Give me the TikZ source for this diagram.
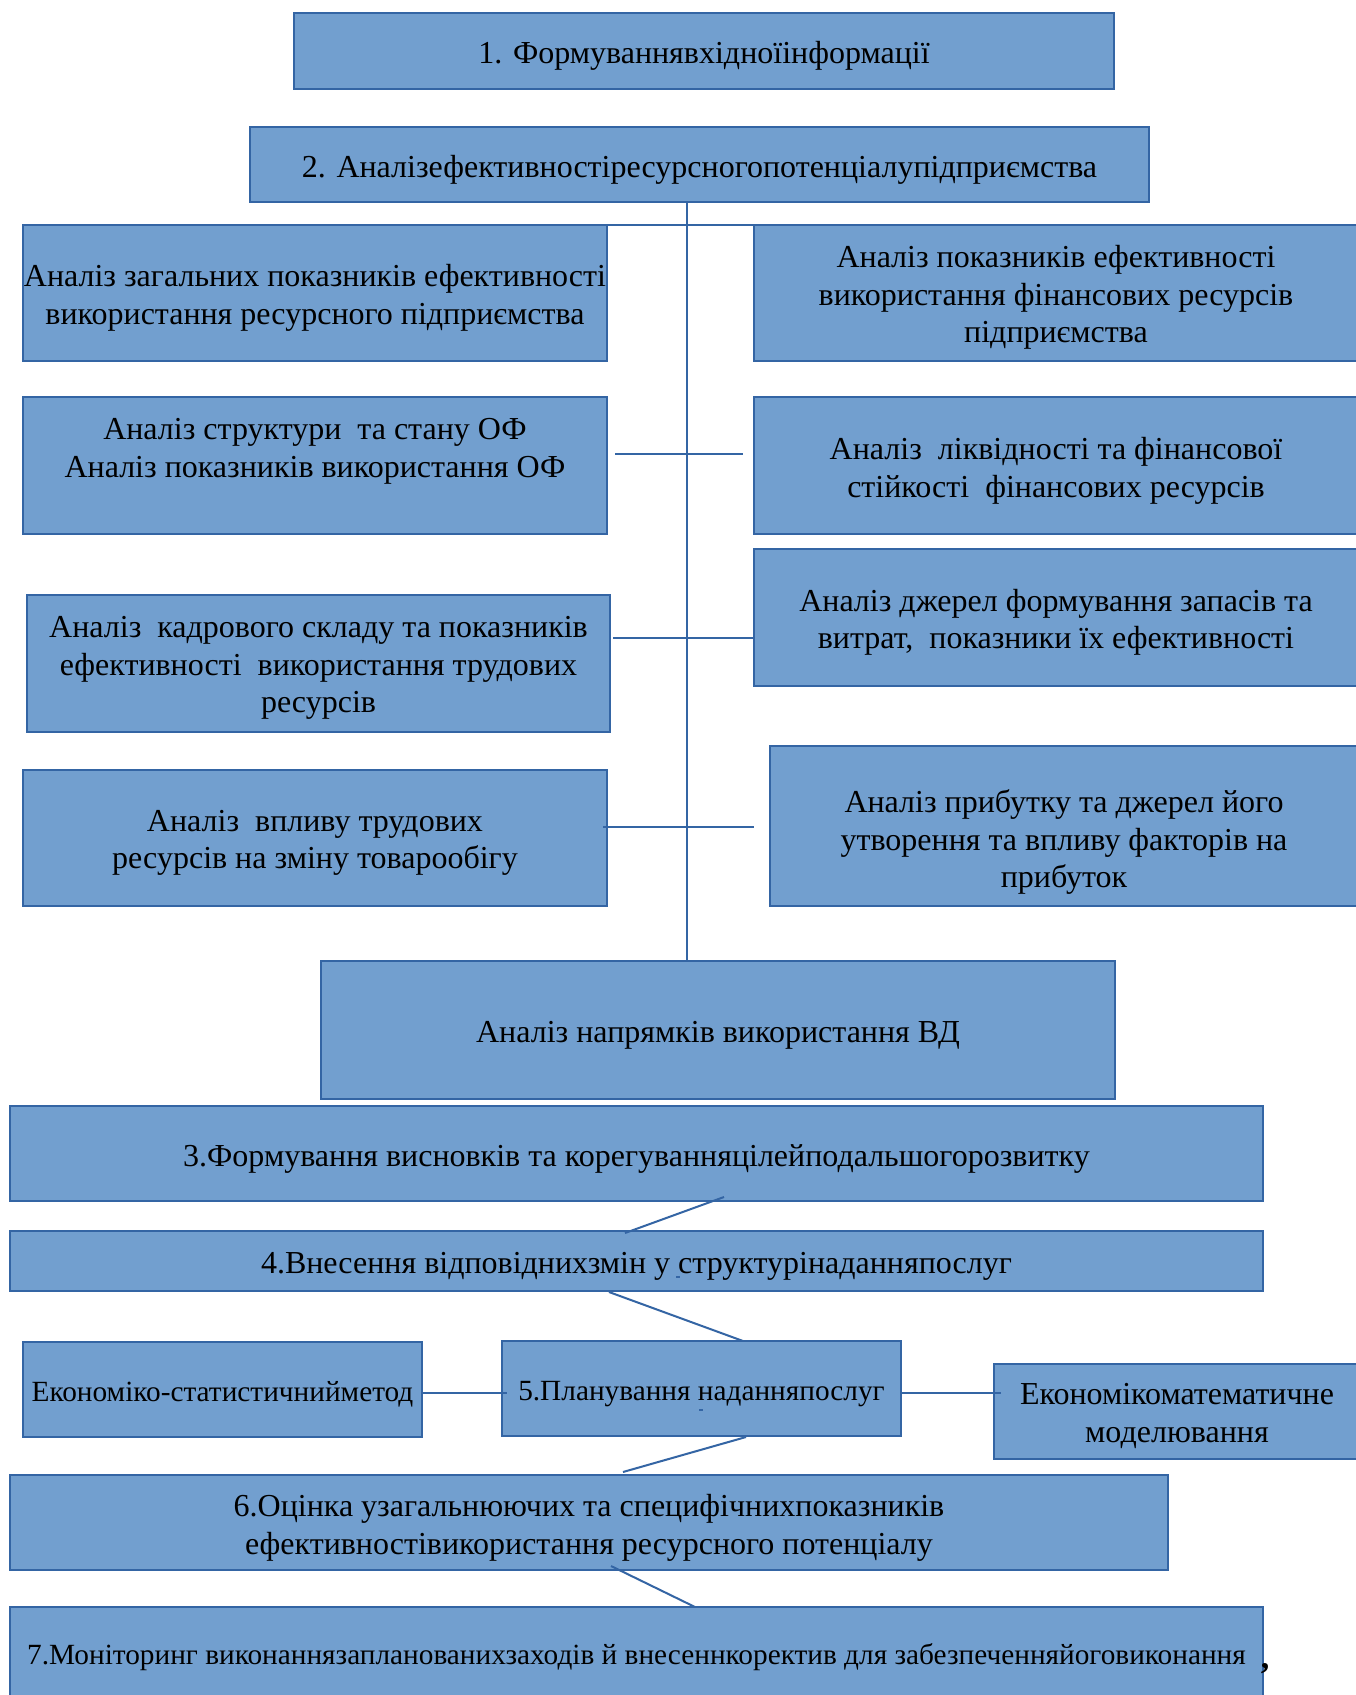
\documentclass[tikz,border=0pt]{standalone}
\usepackage{fontspec}
\setmainfont{Liberation Serif}
\definecolor{boxfill}{HTML}{729FCF}
\definecolor{boxline}{HTML}{3465A4}

\begin{document}
\begin{tikzpicture}[x=1pt, y=-1pt,
        every node/.style={font=\fontsize{32}{37.5}\selectfont, align=center, inner sep=0pt},
        block/.style={draw=boxline, fill=boxfill, line width=2pt, rectangle},
        small/.style={font=\fontsize{29.3}{36}\selectfont},
        link/.style={draw=boxline, line width=2pt}
        ]
        \useasboundingbox[fill=white] (0,0) rectangle (1356,1695);

        \node[block, minimum width=820pt, minimum height=76pt] (b1) at (704,51) {};
        \node[block, minimum width=899pt, minimum height=75pt] (b2) at (699.5,164.5) {};
        \node[block, minimum width=584pt, minimum height=136pt] (l1) at (315,293) {};
        \node[block, minimum width=604pt, minimum height=136pt] (r1) at (1056,293) {};
        \node[block, minimum width=584pt, minimum height=137pt] (l2) at (315,465.5) {};
        \node[block, minimum width=604pt, minimum height=137pt] (r2) at (1056,465.5) {};
        \node[block, minimum width=583pt, minimum height=137pt] (l3) at (318.5,663.5) {};
        \node[block, minimum width=604pt, minimum height=137pt] (r3) at (1056,617.5) {};
        \node[block, minimum width=584pt, minimum height=136pt] (l4) at (315,838) {};
        \node[block, minimum width=588pt, minimum height=160pt] (r4) at (1064,826) {};
        \node[block, minimum width=794pt, minimum height=138pt] (vd) at (718,1030) {};
        \node[block, minimum width=1253pt, minimum height=95pt] (b3) at (636.5,1153.5) {};
        \node[block, minimum width=1253pt, minimum height=60pt] (b4) at (636.5,1261) {};
        \node[block, minimum width=399pt, minimum height=95pt] (s1) at (222.5,1389.5) {};
        \node[block, minimum width=399pt, minimum height=95pt] (b5) at (701.5,1388.5) {};
        \node[block, minimum width=366pt, minimum height=95pt] (m1) at (1177,1411.5) {};
        \node[block, minimum width=1158pt, minimum height=95pt] (b6) at (589,1522.5) {};
        \node[block, minimum width=1253pt, minimum height=90pt] (b7) at (636.5,1652) {};

        \node (b1t) at ([yshift=-5pt]b1.center) {1. Формуваннявхідноїінформації};
        \node (b2t) at ([yshift=-5pt]b2.center) {2. Аналізефективностіресурсногопотенціалупідприємства};
        \node (l1t) at ([yshift=-5pt]l1.center) {Аналіз загальних показників ефективності\\ використання ресурсного підприємства};
        \node (r1t) at ([yshift=-4.5pt]r1.center) {Аналіз показників ефективності\\використання фінансових ресурсів\\підприємства};
        \node (l2t) at ([yshift=14pt]l2.center) {Аналіз структури\ \ та стану ОФ\\Аналіз показників використання ОФ};
        \node (r2t) at ([yshift=-5.5pt]r2.center) {Аналіз\ \ ліквідності та фінансової\\стійкості\ \ фінансових ресурсів};
        \node (l3t) at ([yshift=-4.5pt]l3.center) {Аналіз\ \ кадрового складу та показників\\ефективності\ \ використання трудових\\ресурсів};
        \node (r3t) at ([yshift=-5pt]r3.center) {Аналіз джерел формування запасів та\\витрат,\ \ показники їх ефективності};
        \node (l4t) at ([yshift=-5pt]l4.center) {Аналіз\ \ впливу трудових\\ресурсів на зміну товарообігу};
        \node (r4t) at ([yshift=-16pt]r4.center) {Аналіз прибутку та джерел його\\утворення та впливу факторів на\\прибуток};
        \node (vdt) at ([yshift=-5.5pt]vd.center) {Аналіз напрямків використання ВД};
        \node (b3t) at ([yshift=-5.5pt]b3.center) {3.Формування висновків та корегуванняцілейподальшогорозвитку};
        \node (b4t) at ([yshift=-5.5pt]b4.center) {4.Внесення відповіднихзмін у структурінаданняпослуг};
        \node[small] (s1t) at ([yshift=-4.5pt]s1.center) {Економіко-статистичнийметод};
        \node[small] (b5t) at ([yshift=-5.5pt]b5.center) {5.Планування наданняпослуг};
        \node (m1t) at ([yshift=-4.5pt]m1.center) {Економікоматематичне\\моделювання};
        \node (b6t) at ([yshift=-5.5pt]b6.center) {6.Оцінка узагальнюючих та специфічнихпоказників\\ефективностівикористання ресурсного потенціалу};
        \node[small] (b7t) at ([yshift=-5.5pt]b7.center) {7.Моніторинг виконаннязапланованихзаходів й внесеннкоректив для забезпеченняйоговиконання};
        \node[anchor=base, font=\fontsize{34}{40}\bfseries] (cm) at (1265,1668) {,};

        \draw[link] ([xshift=-12.5pt]b2.south) -- ([xshift=-31pt]vd.north);
        \draw[link] ([xshift=-5pt,yshift=-1pt]l1.north east) -- ([yshift=-1pt]r1.north west);
        \draw[link] ([xshift=7pt,yshift=11.5pt]l2.east) -- ([xshift=-10pt,yshift=11.5pt]r2.west);
        \draw[link] ([xshift=2pt,yshift=25.5pt]l3.east) -- ([yshift=-20.5pt]r3.west);
        \draw[link] ([xshift=-5pt,yshift=11pt]l4.east) -- ([xshift=-15pt,yshift=-1pt]r4.west);

        \draw[link] ([xshift=87.5pt,yshift=5pt]b3.south) -- ([xshift=-11.5pt,yshift=-3pt]b4.north);
        \draw[link] ([xshift=-27.5pt]b4.south) -- ([xshift=41.5pt,yshift=-1pt]b5.north);
        \draw[link] ([yshift=-3.5pt]s1.east) -- ([xshift=6pt,yshift=-4.5pt]b5.west);
        \draw[link] ([yshift=-4.5pt]b5.east) -- ([xshift=8pt,yshift=18.5pt]m1.west);
        \draw[link] ([xshift=44.5pt]b5.south) -- ([xshift=34pt,yshift=2pt]b6.north);
        \draw[link] ([xshift=22pt,yshift=5pt]b6.south) -- ([xshift=58.5pt,yshift=-1pt]b7.north);

        \fill[boxline] (676,1276) rectangle (680,1278);
        \fill[boxline] (699,1409) rectangle (703,1411);
    \end{tikzpicture}
\end{document}
